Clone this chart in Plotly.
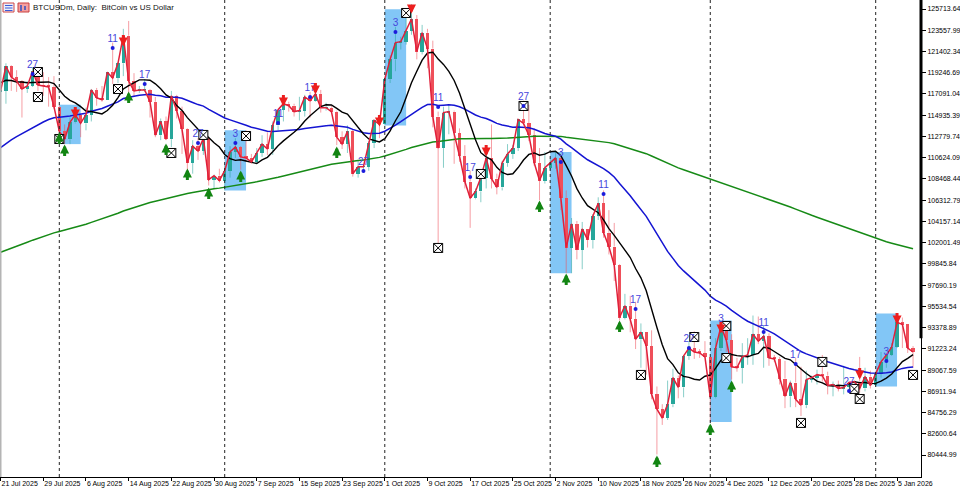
import pandas as pd
import numpy as np
import plotly.graph_objects as go

# ---------------- data ----------------
START = "2025-07-21"
PRE_START = "2025-01-01"

# daily closes before the visible window (thousand USD), used for moving averages
PRE_CLOSE_K = [
    # Jan 2025
    94.4, 96.9, 98.1, 98.2, 98.3, 102.1, 96.9, 95.0, 92.5, 94.7, 94.5, 94.5, 94.5, 96.5, 100.5,
    99.9, 104.1, 104.4, 101.1, 102.0, 106.1, 103.7, 103.9, 104.8, 104.7, 102.6, 102.0, 101.3,
    103.7, 104.7, 102.4,
    # Feb
    100.6, 97.7, 101.4, 97.9, 96.6, 96.6, 96.5, 96.5, 96.5, 97.4, 95.7, 97.8, 96.6, 97.5, 97.6,
    96.1, 95.8, 95.5, 96.6, 98.3, 96.1, 96.6, 96.3, 91.5, 88.7, 84.3, 84.7, 84.4,
    # Mar
    86.0, 94.2, 86.1, 87.2, 90.6, 89.9, 86.7, 86.2, 80.7, 78.5, 82.9, 83.7, 81.1, 83.9, 84.3, 82.6,
    84.0, 82.7, 86.8, 84.2, 84.0, 83.8, 86.1, 87.5, 87.4, 86.9, 87.2, 84.4, 82.6, 82.3, 82.5,
    # Apr
    85.2, 82.5, 83.1, 83.8, 83.5, 78.4, 79.1, 76.3, 82.6, 79.6, 83.4, 85.3, 83.7, 84.5, 83.7,
    84.0, 84.9, 84.4, 85.1, 85.2, 87.5, 93.4, 93.7, 93.9, 94.7, 94.6, 93.8, 95.0, 94.3, 94.2,
    # May
    96.5, 96.9, 95.9, 94.3, 94.7, 96.8, 97.0, 103.2, 102.9, 104.6, 104.1, 102.8, 104.2, 103.5,
    103.7, 103.6, 103.2, 106.4, 105.6, 106.8, 109.7, 111.7, 107.3, 108.9, 109.0, 109.4, 108.9,
    107.8, 105.6, 103.9, 104.6,
    # Jun
    105.7, 105.8, 105.4, 104.7, 101.6, 104.4, 105.6, 105.8, 110.3, 110.3, 108.7, 105.9, 106.1,
    105.5, 105.6, 106.8, 104.6, 104.9, 104.6, 103.3, 102.1, 100.9, 105.4, 105.9, 107.3, 106.9,
    107.1, 107.3, 108.4, 107.1,
    # Jul 1-20
    105.7, 108.8, 109.6, 108.0, 108.2, 109.2, 108.3, 108.9, 111.3, 115.9, 117.5, 117.4, 119.1,
    119.8, 117.7, 118.6, 119.2, 117.9, 117.9, 117.3,
]

# visible daily candles, 21 Jul 2025 .. 8 Jan 2026 (thousand USD)
OPEN_K = [
    117.3, 117.4, 119.9, 118.8, 118.4, 117.6, 117.9, 119.4, 118.0, 117.9, 117.8,
    115.8, 113.3, 112.5, 114.2, 115.0, 114.1, 115.0, 117.5, 116.7, 116.5, 119.3, 118.7, 120.2, 123.0,
    118.4, 117.4, 117.5, 117.5, 116.3, 112.9, 114.3, 112.5, 116.9, 115.4, 113.5, 110.1, 111.8, 111.3,
    112.6, 108.4, 108.8,
    108.3, 109.3, 111.2, 111.7, 110.7, 110.6, 110.2, 111.1, 112.0, 111.5, 113.9, 115.5, 116.1, 115.9,
    115.3, 115.4, 116.8, 116.4, 117.1, 115.7, 115.7, 115.3, 112.7, 112.0, 113.3, 109.0, 109.7, 109.7,
    112.1, 114.4,
    114.0, 118.6, 120.6, 122.3, 122.4, 123.5, 124.7, 121.4, 123.3, 121.7, 114.8, 111.6, 115.2, 115.3,
    113.1, 110.8, 108.2, 106.5, 107.2, 108.6, 110.6, 108.5, 107.6, 110.1, 111.0, 111.6, 114.5, 114.1,
    112.9, 110.1, 108.3,
    109.6, 110.1, 110.6, 106.5, 101.5, 103.9, 101.3, 103.4, 102.3, 104.7, 106.0, 103.0, 101.6, 99.7,
    94.4, 95.6, 94.2, 92.2, 92.9, 91.5, 86.6, 85.1, 84.2, 85.6, 88.3, 87.3, 90.5, 91.3, 90.9, 90.8,
    90.4, 86.3, 91.3, 93.5, 92.1, 89.4, 89.3, 90.4, 90.6, 92.7, 92.0, 92.5, 90.3, 90.2, 88.2, 86.4,
    87.8, 86.1, 85.5, 88.1, 88.3, 88.6, 88.5, 87.5, 87.6, 87.2, 87.3, 87.8, 87.9, 87.2, 88.4,
    87.5, 88.7, 89.9, 90.6, 91.4, 93.9, 93.7, 91.3,
]
HIGH_K = [
    119.7, 120.2, 120.0, 119.5, 118.5, 118.4, 119.8, 119.8, 119.3, 118.8, 118.9,
    116.0, 114.0, 114.7, 115.7, 115.1, 115.7, 117.6, 117.7, 117.9, 119.3, 122.3, 120.3, 123.7, 124.5,
    119.2, 117.9, 118.6, 117.6, 116.8, 114.6, 114.8, 117.4, 117.0, 115.8, 113.6, 112.4, 112.6, 113.4,
    112.7, 108.9, 109.5,
    109.9, 111.8, 112.6, 111.8, 113.4, 111.0, 111.6, 112.9, 113.2, 114.3, 115.5, 116.7, 116.3, 116.1,
    116.8, 117.0, 117.3, 117.9, 117.5, 116.2, 115.9, 115.4, 113.3, 113.9, 113.5, 110.3, 109.8, 112.3,
    114.5, 114.8,
    118.6, 121.0, 123.9, 122.9, 125.7, 126.2, 125.1, 124.1, 123.7, 122.5, 115.3, 115.8, 116.0, 115.4,
    113.6, 111.9, 109.3, 107.5, 109.4, 111.7, 114.0, 109.0, 110.3, 112.0, 111.9, 114.5, 116.4, 116.0,
    113.6, 111.6, 111.2,
    110.5, 111.2, 110.8, 107.3, 104.5, 104.2, 104.1, 103.4, 104.9, 106.6, 107.3, 105.3, 104.0, 99.8,
    96.8, 96.6, 96.0, 93.8, 92.9, 93.1, 87.4, 85.6, 88.0, 89.2, 88.5, 90.6, 91.9, 93.0, 91.2, 92.0,
    90.4, 92.3, 94.1, 94.0, 92.7, 90.3, 91.8, 92.3, 94.6, 94.5, 93.6, 92.8, 90.6, 90.4, 90.0, 88.0,
    90.3, 89.4, 89.0, 88.5, 89.1, 90.6, 88.9, 87.9, 88.0, 89.5, 87.9, 88.0, 90.4, 89.3, 89.0,
    88.9, 90.9, 90.7, 91.8, 94.8, 94.4, 93.7, 91.5,
]
LOW_K = [
    116.5, 116.1, 117.4, 117.3, 114.7, 117.2, 117.8, 117.4, 116.9, 115.8, 115.6,
    112.7, 112.0, 112.0, 114.1, 112.7, 113.4, 114.3, 115.9, 116.3, 116.5, 118.1, 118.2, 118.9, 117.2,
    116.8, 117.2, 117.3, 114.7, 112.7, 112.4, 112.4, 111.7, 114.6, 111.0, 109.3, 109.0, 110.4, 110.9,
    107.8, 107.5, 108.1,
    107.3, 108.6, 110.6, 109.4, 110.2, 110.0, 110.0, 110.7, 110.9, 110.9, 113.4, 114.3, 115.3, 114.8,
    114.4, 114.8, 114.7, 116.3, 115.2, 115.4, 115.2, 111.9, 111.5, 111.1, 108.7, 108.6, 109.1, 109.3,
    111.6, 112.6,
    113.9, 118.2, 119.4, 121.6, 122.1, 123.1, 120.6, 121.1, 119.7, 113.7, 101.9, 109.6, 113.0, 110.0,
    110.2, 107.5, 103.5, 106.4, 106.1, 107.5, 107.5, 106.9, 107.3, 109.7, 110.5, 111.3, 113.9, 112.3,
    109.8, 106.3, 108.0,
    109.4, 109.5, 105.3, 98.9, 98.9, 100.3, 99.3, 101.5, 101.4, 104.3, 102.5, 100.8, 98.1, 94.1,
    94.2, 92.9, 91.2, 89.3, 88.6, 86.1, 80.5, 83.5, 84.0, 85.3, 86.2, 86.3, 90.1, 90.2, 90.3, 90.3,
    83.8, 86.2, 91.0, 90.9, 88.1, 88.9, 87.7, 89.6, 89.6, 91.7, 89.3, 89.5, 89.9, 87.6, 85.2, 85.3,
    85.3, 84.4, 85.2, 87.8, 87.6, 87.9, 86.6, 86.4, 86.9, 86.6, 87.2, 87.4, 86.8, 86.9, 87.2,
    87.4, 88.3, 89.3, 90.5, 91.3, 91.3, 90.8, 89.3,
]
CLOSE_K = [
    117.4, 119.9, 118.8, 118.4, 117.6, 117.9, 119.4, 118.0, 117.9, 117.8, 115.8,
    113.3, 112.5, 114.2, 115.0, 114.1, 115.0, 117.5, 116.7, 116.5, 119.3, 118.7, 120.2, 123.0, 118.4,
    117.4, 117.5, 117.5, 116.3, 112.9, 114.3, 112.5, 116.9, 115.4, 113.5, 110.1, 111.8, 111.3, 112.6,
    108.4, 108.8, 108.3,
    109.3, 111.2, 111.7, 110.7, 110.6, 110.2, 111.1, 112.0, 111.5, 113.9, 115.5, 116.1, 115.9, 115.3,
    115.4, 116.8, 116.4, 117.1, 115.7, 115.7, 115.3, 112.7, 112.0, 113.3, 109.0, 109.7, 109.7, 112.1,
    114.4, 114.0,
    118.6, 120.6, 122.3, 122.4, 123.5, 124.7, 121.4, 123.3, 121.7, 114.8, 111.6, 115.2, 115.3, 113.1,
    110.8, 108.2, 106.5, 107.2, 108.6, 110.6, 108.5, 107.6, 110.1, 111.0, 111.6, 114.5, 114.1, 112.9,
    110.1, 108.3, 109.6,
    110.1, 110.6, 106.5, 101.5, 103.9, 101.3, 103.4, 102.3, 104.7, 106.0, 103.0, 101.6, 99.7, 94.4,
    95.6, 94.2, 92.2, 92.9, 91.5, 86.6, 85.1, 84.2, 85.6, 88.3, 87.3, 90.5, 91.3, 90.9, 90.8, 90.4,
    86.3, 91.3, 93.5, 92.1, 89.4, 89.3, 90.4, 90.6, 92.7, 92.0, 92.5, 90.3, 90.2, 88.2, 86.4, 87.8,
    86.1, 85.5, 88.1, 88.3, 88.6, 88.5, 87.5, 87.6, 87.2, 87.3, 87.8, 87.9, 87.2, 88.4, 87.5,
    88.7, 89.9, 90.6, 91.4, 93.9, 93.7, 91.3, 90.9,
]

# moving averages: black = simple 10, blue = linear-weighted 50, green = linear-weighted 200
MA_FAST_SMA, MA_MID_LWMA, MA_SLOW_LWMA = 10, 50, 200

# first day of each month in view: period separators and opening-range boxes
MONTH_STARTS = ["2025-08-01", "2025-09-01", "2025-10-01", "2025-11-01", "2025-12-01", "2026-01-01"]
BOX_DAYS = 4

# signal arrows (date, price)
UP_ARROW_DATES = ["2025-08-01", "2025-08-02", "2025-08-14", "2025-08-21", "2025-08-25", "2025-08-29",
                  "2025-09-04", "2025-09-22", "2025-10-30", "2025-11-04", "2025-11-14", "2025-11-21",
                  "2025-12-01", "2025-12-05"]
UP_ARROW_PRICES = [112520, 111300, 116680, 111400, 108870, 106940, 108660, 111100, 105620, 98210,
                   93440, 79740, 82990, 87350]
DOWN_ARROW_DATES = ["2025-08-04", "2025-08-13", "2025-09-12", "2025-09-18", "2025-09-30", "2025-10-06",
                    "2025-10-20", "2025-12-03", "2025-12-29", "2026-01-05"]
DOWN_ARROW_PRICES = [115260, 122570, 116480, 117700, 114450, 125920, 111400, 93440, 88770, 94350]

# boxed-cross markers (date, price)
XBOX_DATES = ["2025-07-28", "2025-07-28", "2025-08-01", "2025-08-12", "2025-08-22", "2025-08-28",
              "2025-09-05", "2025-10-05", "2025-10-11", "2025-10-19", "2025-10-27", "2025-11-18",
              "2025-11-28", "2025-12-04", "2025-12-04", "2025-12-18", "2025-12-22", "2025-12-28",
              "2025-12-29", "2026-01-08"]
XBOX_PRICES = [119320, 116780, 112520, 117590, 111100, 112930, 112820, 125310, 101460, 108970,
               115870, 88570, 92420, 93540, 90290, 83700, 89890, 87150, 86130, 88570]

# day-of-month dots with their labels
DOT_DATES = ["2025-07-27", "2025-08-11", "2025-08-17", "2025-08-27", "2025-09-03", "2025-09-11",
             "2025-09-17", "2025-09-27", "2025-10-03", "2025-10-11", "2025-10-17", "2025-10-27",
             "2025-11-03", "2025-11-11", "2025-11-17", "2025-11-27", "2025-12-03", "2025-12-11",
             "2025-12-17", "2025-12-27", "2026-01-03"]
DOT_PRICES = [119120, 121760, 118100, 112110, 112110, 114140, 116780, 109270, 123380, 115770,
              108660, 115870, 110190, 106940, 95270, 91310, 93340, 92930, 89680, 86940, 89990]
DOT_LABELS = ["27", "11", "17", "27", "3", "11", "17", "27", "3", "11", "17", "27",
              "3", "11", "17", "27", "3", "11", "17", "27", "3"]

# axis ticks
X_TICKS = ["2025-07-21", "2025-07-29", "2025-08-06", "2025-08-14", "2025-08-22", "2025-08-30",
           "2025-09-07", "2025-09-15", "2025-09-23", "2025-10-01", "2025-10-09", "2025-10-17",
           "2025-10-25", "2025-11-02", "2025-11-10", "2025-11-18", "2025-11-26", "2025-12-04",
           "2025-12-12", "2025-12-20", "2025-12-28", "2026-01-05"]
Y_TICKS = [80444.99, 82600.64, 84756.29, 86911.94, 89067.59, 91223.24, 93378.89, 95534.54,
           97690.19, 99845.84, 102001.49, 104157.14, 106312.79, 108468.44, 110624.09, 112779.74,
           114935.39, 117091.04, 119246.69, 121402.34, 123557.99, 125713.64]

TITLE = "BTCUSDm, Daily:  BitCoin vs US Dollar"

# ---------------- derived ----------------
dates = pd.date_range(START, periods=len(CLOSE_K), freq="D")
o = np.array(OPEN_K) * 1000
h = np.array(HIGH_K) * 1000
l = np.array(LOW_K) * 1000
c = np.array(CLOSE_K) * 1000

all_close = pd.Series(list(PRE_CLOSE_K) + list(CLOSE_K)) * 1000
npre = len(PRE_CLOSE_K)


def sma(n):
    return all_close.rolling(n).mean().iloc[npre:].values


def lwma(n):
    w = np.arange(1, n + 1, dtype=float)
    return all_close.rolling(n).apply(lambda a: np.dot(a, w) / w.sum(), raw=True).iloc[npre:].values


BULL = "#26a69a"
BEAR = "#ef4f5a"
BULL_WICK = "rgba(38,166,154,0.55)"
BEAR_WICK = "rgba(239,79,90,0.55)"
BOX_COLOR = "#82c6f6"
DAY_MS = 86400000

fig = go.Figure()

# candle bodies
up = c >= o
body_base = np.minimum(o, c)
body_h = np.maximum(np.abs(c - o), 40)
fig.add_trace(go.Bar(x=dates, y=body_h, base=body_base,
                     marker=dict(color=[BULL if u else BEAR for u in up], line=dict(width=0)),
                     width=0.62 * DAY_MS, hoverinfo="skip"))


# wicks (outside the body only)
def wick_xy(mask):
    xs, ys = [], []
    for d, hi, lo, op, cl, m in zip(dates, h, l, o, c, mask):
        if not m:
            continue
        top, bot = max(op, cl), min(op, cl)
        xs += [d, d, None, d, d, None]
        ys += [hi, top, None, bot, lo, None]
    return xs, ys


for mask, col in ((up, BULL_WICK), (~up, BEAR_WICK)):
    xs, ys = wick_xy(mask)
    fig.add_trace(go.Scatter(x=xs, y=ys, mode="lines", line=dict(color=col, width=1),
                             hoverinfo="skip", connectgaps=False))

# moving averages
fig.add_trace(go.Scatter(x=dates, y=lwma(MA_SLOW_LWMA), mode="lines", line=dict(color="#168a16", width=1.5)))
fig.add_trace(go.Scatter(x=dates, y=lwma(MA_MID_LWMA), mode="lines", line=dict(color="#1414d2", width=1.5)))
fig.add_trace(go.Scatter(x=dates, y=sma(MA_FAST_SMA), mode="lines", line=dict(color="#000000", width=1.4)))

# close line
fig.add_trace(go.Scatter(x=dates, y=c, mode="lines", line=dict(color="#e0203a", width=1.5)))

# boxed crosses
fig.add_trace(go.Scatter(x=pd.to_datetime(XBOX_DATES), y=XBOX_PRICES, mode="markers",
                         marker=dict(symbol="square-x", size=9, color="white",
                                     line=dict(color="black", width=1))))

# day dots with labels
fig.add_trace(go.Scatter(x=pd.to_datetime(DOT_DATES), y=DOT_PRICES, mode="markers+text",
                         text=DOT_LABELS, textposition="top center",
                         textfont=dict(family="Liberation Sans", size=10, color="#4646dc"),
                         marker=dict(symbol="circle", size=4, color="#1c1cdc")))

# opening-range boxes and period separators
for m in MONTH_STARTS:
    d0 = pd.Timestamp(m)
    d1 = d0 + pd.Timedelta(days=BOX_DAYS)
    sel = (dates >= d0) & (dates <= d1)
    fig.add_shape(type="rect", xref="x", yref="y", x0=d0, x1=d1, y0=l[sel].min(), y1=h[sel].max(),
                  fillcolor=BOX_COLOR, line=dict(width=0), layer="below")
    fig.add_shape(type="line", xref="x", yref="paper", x0=d0, x1=d0, y0=0, y1=1,
                  line=dict(color="#222222", width=1, dash="dot"), layer="above")

# arrows (thick shaft + head)
for d, p in zip(UP_ARROW_DATES, UP_ARROW_PRICES):
    fig.add_annotation(x=pd.Timestamp(d), y=p, xref="x", yref="y", text="", showarrow=True,
                       ax=0, ay=13, yshift=6.5, arrowhead=2, arrowsize=0.6, arrowwidth=3,
                       arrowcolor="#128512")
for d, p in zip(DOWN_ARROW_DATES, DOWN_ARROW_PRICES):
    fig.add_annotation(x=pd.Timestamp(d), y=p, xref="x", yref="y", text="", showarrow=True,
                       ax=0, ay=-13, yshift=-6.5, arrowhead=2, arrowsize=0.6, arrowwidth=3,
                       arrowcolor="#ec1e1e")

# title and its two small icons
fig.add_annotation(x=0, y=1, xref="paper", yref="paper", xanchor="left", yanchor="top",
                   xshift=31, yshift=-1, text=TITLE, showarrow=False,
                   font=dict(family="Liberation Sans", size=8, color="#111111"))
PW, PH = 921.0, 477.0
fig.add_shape(type="rect", xref="paper", yref="paper", x0=3 / PW, x1=14 / PW,
              y0=1 - 12 / PH, y1=1 - 3 / PH, fillcolor="#e8eefc", line=dict(color="#d04848", width=1))
for yy in (5.5, 8, 10.5):
    fig.add_shape(type="line", xref="paper", yref="paper", x0=5 / PW, x1=12.5 / PW,
                  y0=1 - yy / PH, y1=1 - yy / PH, line=dict(color="#3a5ad8", width=1))
fig.add_shape(type="rect", xref="paper", yref="paper", x0=18 / PW, x1=29 / PW,
              y0=1 - 12 / PH, y1=1 - 3 / PH, fillcolor="#f4a0a0", line=dict(color="#c84040", width=1))
fig.add_shape(type="line", xref="paper", yref="paper", x0=21 / PW, x1=21 / PW,
              y0=1 - 11 / PH, y1=1 - 5 / PH, line=dict(color="#3050c0", width=1.5))
fig.add_shape(type="line", xref="paper", yref="paper", x0=25 / PW, x1=25 / PW,
              y0=1 - 10 / PH, y1=1 - 6 / PH, line=dict(color="#3050c0", width=1.5))

# frame decorations: left border, thick price-scale segment
fig.add_shape(type="line", xref="paper", yref="paper", x0=0, x1=0, y0=0, y1=1,
              line=dict(color="#b4b4b4", width=3))
fig.add_shape(type="line", xref="paper", yref="y", x0=1, x1=1, y0=c[-1] + 1400, y1=130000,
              line=dict(color="black", width=3))

x_start = dates[0] - pd.Timedelta(hours=2.7)
x_end = dates[0] + pd.Timedelta(days=172.49)

fig.update_layout(
    width=960, height=491, margin=dict(l=0, r=39, t=0, b=14),
    paper_bgcolor="white", plot_bgcolor="white", showlegend=False,
    barmode="overlay", bargap=0,
    font=dict(family="Liberation Sans", size=7, color="black"),
    xaxis=dict(type="date", range=[x_start, x_end], showgrid=False, zeroline=False,
               showline=True, linecolor="black", linewidth=1,
               ticks="outside", ticklen=3, tickcolor="black", tickangle=0,
               tickvals=pd.to_datetime(X_TICKS),
               ticktext=[pd.Timestamp(t).strftime("%-d %b %Y") for t in X_TICKS],
               ticklabelposition="outside right",
               tickfont=dict(family="Liberation Sans", size=7, color="black")),
    yaxis=dict(side="right", range=[78212, 126627], showgrid=False, zeroline=False,
               showline=True, linecolor="black", linewidth=1,
               ticks="outside", ticklen=4, tickcolor="black",
               tickvals=Y_TICKS, ticktext=[f"{v:.2f}" for v in Y_TICKS],
               tickfont=dict(family="Liberation Sans", size=7, color="black")),
)

fig.write_html("out.html")
